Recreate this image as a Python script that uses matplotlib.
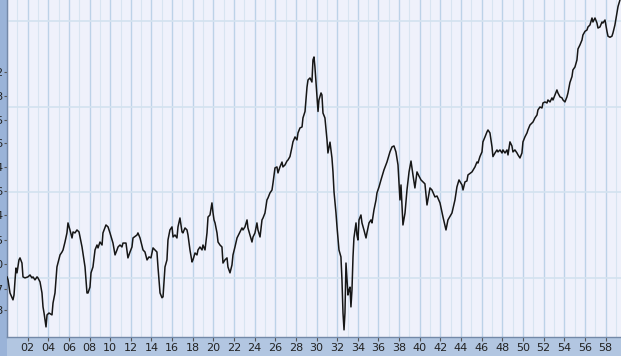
import matplotlib
matplotlib.use("Agg")
import matplotlib.pyplot as plt
from matplotlib.patches import Rectangle

# index level (decimal year, value on a log scale)
years = [
    1900.00, 1900.10, 1900.29, 1900.58, 1900.68, 1900.78, 1900.87, 1900.97, 1901.16, 1901.26,
    1901.45, 1901.55, 1901.74, 1902.03, 1902.23, 1902.42, 1902.52, 1902.71, 1902.91, 1903.00,
    1903.20, 1903.39, 1903.49, 1903.59, 1903.78, 1903.88, 1904.07, 1904.36, 1904.46, 1904.65,
    1904.84, 1904.94, 1905.14, 1905.33, 1905.43, 1905.62, 1905.81, 1905.91, 1906.10, 1906.30,
    1906.40, 1906.59, 1906.78, 1906.98, 1907.27, 1907.36, 1907.56, 1907.75, 1907.85, 1908.04,
    1908.14, 1908.33, 1908.53, 1908.72, 1908.82, 1909.01, 1909.21, 1909.30, 1909.59, 1909.79,
    1909.98, 1910.27, 1910.47, 1910.66, 1910.76, 1910.95, 1911.14, 1911.24, 1911.53, 1911.72,
    1911.92, 1912.11, 1912.21, 1912.60, 1912.69, 1912.89, 1913.18, 1913.37, 1913.57, 1913.76,
    1913.95, 1914.15, 1914.34, 1914.53, 1914.63, 1914.83, 1915.02, 1915.12, 1915.31, 1915.50,
    1915.60, 1915.79, 1915.99, 1916.09, 1916.28, 1916.47, 1916.57, 1916.76, 1916.96, 1917.05,
    1917.25, 1917.44, 1917.54, 1917.73, 1917.93, 1918.02, 1918.22, 1918.41, 1918.51, 1918.70,
    1918.90, 1918.99, 1919.19, 1919.38, 1919.48, 1919.67, 1919.86, 1919.96, 1920.06, 1920.16,
    1920.35, 1920.45, 1920.64, 1920.83, 1920.93, 1921.12, 1921.32, 1921.41, 1921.61, 1921.80,
    1921.90, 1922.09, 1922.29, 1922.58, 1922.77, 1922.87, 1923.06, 1923.26, 1923.35, 1923.55,
    1923.74, 1923.84, 1924.03, 1924.22, 1924.32, 1924.52, 1924.71, 1924.81, 1925.00, 1925.19,
    1925.29, 1925.48, 1925.68, 1925.78, 1925.97, 1926.16, 1926.26, 1926.45, 1926.65, 1926.74,
    1926.94, 1927.13, 1927.23, 1927.42, 1927.62, 1927.71, 1927.91, 1928.10, 1928.20, 1928.39,
    1928.59, 1928.68, 1928.88, 1929.07, 1929.17, 1929.36, 1929.55, 1929.65, 1929.75, 1929.84,
    1930.04, 1930.14, 1930.23, 1930.43, 1930.52, 1930.62, 1930.81, 1931.01, 1931.10, 1931.30,
    1931.49, 1931.59, 1931.69, 1931.88, 1931.98, 1932.17, 1932.36, 1932.46, 1932.56, 1932.66,
    1932.75, 1932.85, 1932.95, 1933.04, 1933.14, 1933.24, 1933.33, 1933.43, 1933.53, 1933.62,
    1933.82, 1933.91, 1934.01, 1934.11, 1934.30, 1934.40, 1934.59, 1934.79, 1934.88, 1935.08,
    1935.27, 1935.37, 1935.56, 1935.76, 1935.85, 1936.05, 1936.24, 1936.53, 1936.82, 1937.11,
    1937.31, 1937.50, 1937.69, 1937.89, 1938.08, 1938.18, 1938.37, 1938.57, 1938.76, 1938.96,
    1939.15, 1939.34, 1939.53, 1939.73, 1939.92, 1940.12, 1940.31, 1940.50, 1940.70, 1940.99,
    1941.18, 1941.47, 1941.67, 1941.96, 1942.25, 1942.54, 1942.73, 1943.12, 1943.41, 1943.60,
    1943.80, 1944.09, 1944.19, 1944.38, 1944.57, 1944.67, 1945.06, 1945.35, 1945.54, 1945.64,
    1945.83, 1946.03, 1946.12, 1946.32, 1946.51, 1946.61, 1946.80, 1947.00, 1947.09, 1947.29,
    1947.48, 1947.58, 1947.77, 1947.97, 1948.06, 1948.26, 1948.45, 1948.55, 1948.74, 1948.93,
    1949.03, 1949.22, 1949.42, 1949.52, 1949.71, 1949.90, 1950.00, 1950.19, 1950.39, 1950.48,
    1950.68, 1950.87, 1950.97, 1951.16, 1951.36, 1951.45, 1951.65, 1951.84, 1951.94, 1952.13,
    1952.33, 1952.42, 1952.62, 1952.81, 1952.91, 1953.10, 1953.29, 1953.39, 1953.59, 1953.78,
    1953.88, 1954.07, 1954.26, 1954.36, 1954.55, 1954.75, 1954.84, 1955.04, 1955.23, 1955.33,
    1955.52, 1955.72, 1955.81, 1956.01, 1956.20, 1956.30, 1956.49, 1956.69, 1956.78, 1956.98,
    1957.17, 1957.27, 1957.46, 1957.66, 1957.75, 1957.95, 1958.14, 1958.24, 1958.43, 1958.62,
    1958.72, 1958.91, 1959.11, 1959.21, 1959.40, 1959.69,
]
values = [
    63.0, 61.5, 55.3, 52.3, 54.4, 61.5, 67.7, 65.1, 72.3, 73.5,
    70.5, 63.0, 62.5, 63.0, 64.0, 62.5, 63.0, 61.5, 63.0, 62.5,
    60.5, 55.3, 49.4, 47.0, 42.0, 46.3, 47.0, 46.3, 51.0, 55.3,
    68.3, 70.5, 75.3, 77.1, 78.4, 83.6, 90.0, 97.6, 92.2, 86.4,
    90.7, 90.0, 92.2, 90.7, 80.3, 76.5, 68.3, 55.3, 55.3, 58.0,
    65.1, 68.3, 78.4, 81.6, 79.7, 83.6, 81.6, 90.0, 96.0, 94.5,
    90.0, 82.9, 75.3, 78.4, 80.3, 81.6, 80.3, 82.9, 82.9, 73.5,
    77.1, 80.3, 86.4, 88.5, 90.0, 86.4, 78.4, 77.1, 72.3, 74.1,
    73.5, 79.7, 78.4, 77.1, 68.3, 55.3, 53.2, 53.6, 68.3, 72.3,
    85.0, 92.2, 94.5, 87.1, 88.5, 86.4, 94.5, 101.6, 90.7, 90.0,
    93.7, 92.2, 88.5, 78.4, 71.1, 72.3, 76.5, 75.3, 78.4, 80.3,
    78.4, 81.6, 78.4, 90.0, 102.4, 104.1, 114.8, 106.2, 100.0, 97.6,
    90.0, 83.6, 81.6, 80.3, 70.5, 72.3, 73.5, 68.3, 65.1, 69.4,
    75.3, 80.3, 86.4, 90.7, 93.7, 92.2, 94.5, 100.0, 93.7, 88.5,
    83.6, 87.1, 90.0, 97.6, 92.2, 87.1, 100.0, 101.6, 105.8, 117.6,
    119.5, 124.4, 127.5, 135.1, 152.5, 153.7, 146.4, 153.7, 159.9, 153.7,
    156.2, 161.2, 162.6, 167.1, 180.8, 188.3, 196.0, 191.3, 202.5, 210.8,
    212.5, 228.6, 241.0, 293.4, 311.1, 316.2, 306.0, 365.9, 374.9, 345.7,
    271.2, 241.0, 264.5, 280.0, 275.5, 237.9, 228.6, 191.3, 172.1, 187.9,
    165.3, 147.6, 125.5, 105.8, 94.5, 78.4, 74.1, 61.5, 47.0, 41.0,
    47.0, 70.5, 61.5, 54.4, 56.7, 58.0, 49.4, 56.7, 74.1, 86.4,
    97.6, 88.5, 85.0, 100.0, 104.1, 97.6, 92.2, 86.4, 90.0, 97.6,
    100.0, 97.6, 108.4, 117.6, 124.4, 130.7, 138.3, 150.0, 159.9, 173.6,
    180.8, 182.2, 173.6, 156.2, 117.6, 132.8, 96.0, 105.8, 127.5, 147.6,
    161.2, 144.0, 129.6, 147.6, 142.8, 138.3, 136.1, 134.0, 112.9, 129.6,
    127.5, 120.5, 121.4, 114.8, 102.4, 92.2, 100.0, 105.8, 117.6, 130.7,
    138.3, 132.8, 127.5, 136.1, 137.2, 144.0, 147.6, 153.7, 159.9, 158.6,
    167.1, 173.6, 188.3, 196.0, 204.1, 207.4, 202.5, 180.8, 167.1, 172.1,
    176.4, 173.6, 176.4, 172.1, 176.4, 172.1, 176.4, 169.4, 188.3, 182.2,
    173.6, 176.4, 172.1, 169.4, 165.3, 172.1, 188.3, 196.0, 202.5, 207.4,
    216.0, 219.5, 221.2, 228.6, 234.2, 243.9, 249.9, 247.9, 258.2, 260.3,
    258.2, 264.5, 260.3, 269.0, 264.5, 275.5, 286.9, 280.0, 271.2, 269.0,
    264.5, 260.3, 271.2, 280.0, 304.6, 319.8, 337.4, 345.7, 365.9, 400.0,
    413.1, 430.2, 448.0, 461.4, 466.5, 478.1, 485.8, 514.2, 497.9, 514.2,
    493.8, 474.0, 478.1, 497.9, 493.8, 505.9, 461.4, 443.6, 439.8, 443.6,
    455.3, 485.8, 535.5, 564.0, 595.1, 620.0,
]

# y ticks on the (cropped) left axis and the horizontal grid levels
y_ticks = [48, 57, 70, 85, 104, 126, 154, 186, 225, 273, 332]
y_grid = [62.5, 125, 250, 500]
label_years = list(range(1902, 1959, 2))
grid_years = list(range(1900, 1960))

fig = plt.figure(figsize=(6.21, 3.56), dpi=100, facecolor="#b2c6e1")
# darker blue strip behind the cropped y axis labels
fig.patches.append(Rectangle((0, 0), 7 / 621, 1, transform=fig.transFigure,
                             facecolor="#9ab3d8", edgecolor="none", zorder=-5))

ax = fig.add_axes([7 / 621, 19 / 356, 614 / 621, 337 / 356])
ax.set_facecolor("#eff1fb")

for yr in grid_years:
    if yr % 2 == 0:
        ax.axvline(yr, color="#bcd2e8", lw=1.0, zorder=1)
    else:
        ax.axvline(yr, color="#d8e4f1", lw=0.8, zorder=1)
for lvl in y_grid:
    ax.axhline(lvl, color="#d3e2ef", lw=1.2, zorder=1)

ax.plot(years, values, color="#161616", lw=1.1, zorder=3)

ax.set_yscale("log")
ax.set_xlim(1900.0, 1959.5)
ax.set_ylim(38.7, 595)

ax.set_xticks(label_years)
ax.set_xticklabels([f"{y % 100:02d}" for y in label_years], fontsize=8, color="#222222")
ax.set_yticks(y_ticks)
ax.set_yticklabels([str(v) for v in y_ticks], fontsize=8, color="#222222")
ax.yaxis.set_minor_locator(matplotlib.ticker.NullLocator())
ax.tick_params(axis="x", length=3, width=0.8, color="#555555", pad=1)
ax.tick_params(axis="y", length=2, width=0.8, color="#555555", pad=0.5)

for side in ("top", "right"):
    ax.spines[side].set_visible(False)
for side in ("left", "bottom"):
    ax.spines[side].set_color("#7489a8")
    ax.spines[side].set_linewidth(1.0)

fig.savefig("out.png", dpi=100, facecolor=fig.get_facecolor())
